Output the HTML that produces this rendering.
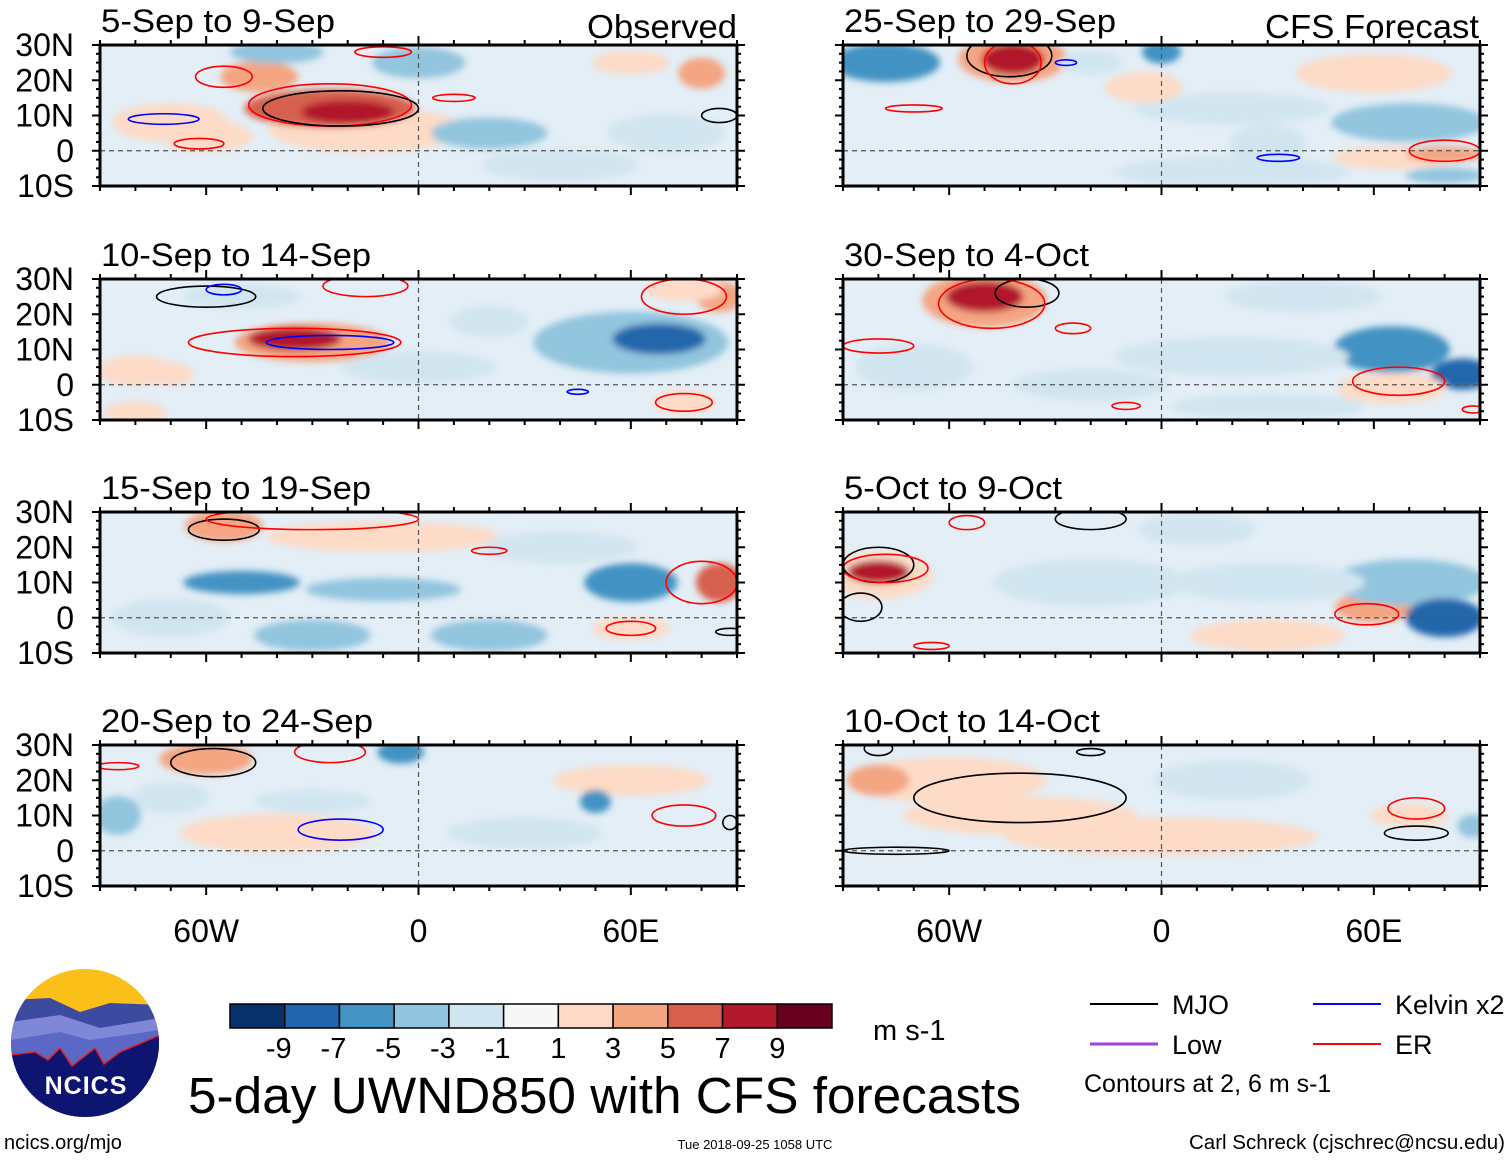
<!DOCTYPE html>
<html><head><meta charset="utf-8"><style>
body{margin:0;background:#fff;}
svg text{font-family:"Liberation Sans",sans-serif;fill:#000;}
</style></head><body>
<svg id="c" width="1510" height="1159" viewBox="0 0 1510 1159" xmlns="http://www.w3.org/2000/svg">
<defs><filter id="bl" x="-50%" y="-50%" width="200%" height="200%"><feGaussianBlur stdDeviation="3.5"/></filter>
<clipPath id="logoclip"><circle cx="85" cy="1043" r="74"/></clipPath></defs>
</svg>
<script>
const titles=["5-Sep to 9-Sep","10-Sep to 14-Sep","15-Sep to 19-Sep","20-Sep to 24-Sep","25-Sep to 29-Sep","30-Sep to 4-Oct","5-Oct to 9-Oct","10-Oct to 14-Oct"];
const titleWidths=[234,270,270,272,272,245,218,256];
const latTicks=[30,20,10,0,-10];
const latLabels=["30N","20N","10N","0","10S"];
const lonTicks=[-60,0,60];
const lonLabels=["60W","0","60E"];
const cbLevels=[-9,-7,-5,-3,-1,1,3,5,7,9];
const cbColors=["#08306b","#2166ac","#4393c3","#92c5de","#d1e5f0","#f7f7f7","#fddbc7","#f4a582","#d6604d","#b2182b","#67001f"];
// blobs: [lon, lat, rx(deg), ry(deg), value m/s]
const blobs0=[[-15,6,25,6,3],[-60,4,12,4,2],[-70,8,15,5,1.5],[-25,12,22,5,6],[-20,11,12,3,9],[-45,21,10,4,4],[-40,28,12,3,-4],[20,5,15,4,-3],[40,-4,20,4,-2],[80,22,6,4,4],[60,25,10,3,2],[0,25,12,4,-3],[70,5,15,5,-2]];
const blobs1=[[-30,12,20,5,4],[-35,13,12,3,8],[-80,4,10,4,3],[-70,3,6,3,3],[60,12,25,8,-3],[68,13,12,4,-7],[85,25,6,4,5],[75,27,10,3,3],[75,-5,8,3,3],[-50,25,15,3,-2],[20,18,10,4,-2],[0,5,20,4,-1.5],[-80,-8,8,3,2]];
const blobs2=[[-55,26,10,4,4],[-10,23,30,4,2],[-50,10,15,3,-5],[-10,8,20,3,-3],[60,10,12,5,-5],[85,10,6,5,6],[-30,-5,15,4,-4],[20,-5,15,4,-3],[-70,0,15,5,-2],[60,-3,10,3,2],[40,20,20,4,-1.5]];
const blobs3=[[-40,5,25,5,1.5],[60,20,20,4,1.5],[-60,26,12,4,5],[-5,28,6,3,-5],[-70,15,10,4,-2],[-30,14,15,3,-2],[50,14,4,3,-5],[30,5,20,4,-2],[-85,10,6,5,-3]];
const blobs4=[[-42,26,14,6,4],[-42,26,8,4,8],[-78,25,14,5,-5],[-20,25,8,3,-2],[0,28,5,3,-6],[70,8,20,5,-4],[65,-2,15,3,2],[80,-1,10,2,5],[80,-7,10,2,-3],[20,-6,30,4,-2],[20,12,25,4,-2],[-5,18,10,4,1.5],[60,22,20,5,2],[30,2,10,5,-2]];
const blobs5=[[-50,24,16,7,4],[-50,25,10,4,8],[65,10,15,6,-5],[85,3,8,4,-8],[65,-1,14,4,3],[20,8,30,5,-2],[-20,0,20,4,-1.5],[-70,5,15,6,-2],[30,-6,25,3,-2],[40,25,20,4,-2]];
const blobs6=[[-80,12,14,6,3],[-80,13,8,3,8],[60,3,10,4,4],[70,10,20,6,-4],[80,0,10,5,-8],[30,10,25,5,-2],[-20,10,25,6,-1.5],[30,-5,20,4,1.5],[10,25,15,4,-2]];
const blobs7=[[-60,20,25,6,3],[-40,10,30,5,2],[0,4,40,5,2],[70,10,10,3,2],[88,7,4,3,-4],[20,20,20,5,-1],[-80,20,8,4,4]];
// contours: [lon, lat, rx, ry, type]
const cont0=[[-25,13,23,6,"ER"],[-22,12,22,5,"MJO"],[-55,21,8,3,"ER"],[-72,9,10,1.5,"K"],[-62,2,7,1.5,"ER"],[-10,28,8,1.5,"ER"],[10,15,6,1,"ER"],[85,10,5,2,"MJO"]];
const cont1=[[-60,25,14,3,"MJO"],[-35,12,30,4,"ER"],[-25,12,18,2,"K"],[-55,27,5,1.5,"K"],[-15,28,12,3,"ER"],[75,25,12,5,"ER"],[75,-5,8,2.5,"ER"],[45,-2,3,0.7,"K"]];
const cont2=[[-55,25,10,3,"MJO"],[-30,28,30,3,"ER"],[80,10,10,6,"ER"],[20,19,5,1,"ER"],[60,-3,7,2,"ER"],[88,-4,4,1,"MJO"]];
const cont3=[[-58,25,12,4,"MJO"],[-85,24,6,1,"ER"],[-25,28,10,3,"ER"],[-22,6,12,3,"K"],[75,10,9,3,"ER"],[88,8,2,2,"MJO"]];
const cont4=[[-43,27,12,6,"MJO"],[-42,25,8,6,"ER"],[-27,25,3,0.8,"K"],[-70,12,8,1,"ER"],[80,0,10,3,"ER"],[33,-2,6,1,"K"]];
const cont5=[[-38,26,9,4,"MJO"],[-48,23,15,7,"ER"],[-25,16,5,1.5,"ER"],[-80,11,10,2,"ER"],[67,1,13,4,"ER"],[-10,-6,4,1,"ER"],[88,-7,3,1,"ER"]];
const cont6=[[-80,15,10,5,"MJO"],[-78,14,12,4,"ER"],[-55,27,5,2,"ER"],[-20,28,10,3,"MJO"],[58,1,9,3,"ER"],[-85,3,6,4,"MJO"],[-65,-8,5,1,"ER"]];
const cont7=[[-40,15,30,7,"MJO"],[72,5,9,2,"MJO"],[72,12,8,3,"ER"],[-75,0,15,1,"MJO"],[-80,29,4,2,"MJO"],[-20,28,4,1,"MJO"]];
const allBlobs=[blobs0,blobs1,blobs2,blobs3,blobs4,blobs5,blobs6,blobs7];
const allCont=[cont0,cont1,cont2,cont3,cont4,cont5,cont6,cont7];
const contColor={MJO:"#000",K:"#0000ff",ER:"#ff0000",Low:"#a040e0"};

const NS="http://www.w3.org/2000/svg";
const svg=document.getElementById('c');
function mk(tag,attrs,parent){const e=document.createElementNS(NS,tag);for(const k in attrs)e.setAttribute(k,attrs[k]);(parent||svg).appendChild(e);return e;}
function colorFor(v){let i=0;while(i<cbLevels.length&&v>cbLevels[i])i++;return cbColors[i];}
const W=637,H=141,rowY=[45,279,512,745],colX=[100,843];
for(let p=0;p<8;p++){
  const x0=colX[p<4?0:1],y0=rowY[p%4];
  const xs=lon=>x0+(lon+90)/180*W;
  const ys=lat=>y0+(30-lat)/40*H;
  const g=mk('g',{});
  
  
  const cid='cl'+p;
  const cp=mk('clipPath',{id:cid},svg.querySelector('defs'));
  mk('rect',{x:x0,y:y0,width:W,height:H},cp);
  const inner=mk('g',{'clip-path':'url(#'+cid+')'},g);
  mk('rect',{x:x0,y:y0,width:W,height:H,fill:'#e3eef6'},inner);
  const bg=mk('g',{filter:'url(#bl)'},inner);
  allBlobs[p].forEach(b=>{
    const e=mk('ellipse',{cx:xs(b[0]),cy:ys(b[1]),rx:b[2]/180*W*1.1,ry:b[3]/40*H*1.1,fill:colorFor(b[4])},bg);
    
    
  });
  mk('line',{x1:x0,x2:x0+W,y1:ys(0),y2:ys(0),stroke:'#555','stroke-dasharray':'5,4','stroke-width':1.2},inner);
  mk('line',{x1:xs(0),x2:xs(0),y1:y0,y2:y0+H,stroke:'#555','stroke-dasharray':'5,4','stroke-width':1.2},inner);
  allCont[p].forEach(c=>{
    const e=mk('ellipse',{cx:xs(c[0]),cy:ys(c[1]),rx:c[2]/180*W,ry:c[3]/40*H,fill:'none',stroke:contColor[c[4]],'stroke-width':1.6},inner);
    
    
  });
  mk('rect',{x:x0,y:y0,width:W,height:H,fill:'none',stroke:'#000','stroke-width':3},g);
  for(let lon=-90;lon<=90;lon+=10){const L=lon%60===0?9:5;mk('line',{x1:xs(lon),x2:xs(lon),y1:y0+H,y2:y0+H+L,stroke:'#000','stroke-width':2},g);mk('line',{x1:xs(lon),x2:xs(lon),y1:y0,y2:y0-L,stroke:'#000','stroke-width':2},g);}
  for(let lat=-10;lat<=30;lat+=2.5){const L=lat%10===0?8:4;mk('line',{x1:x0-L,x2:x0,y1:ys(lat),y2:ys(lat),stroke:'#000','stroke-width':2},g);mk('line',{x1:x0+W,x2:x0+W+L,y1:ys(lat),y2:ys(lat),stroke:'#000','stroke-width':2},g);}
  const t=mk('text',{x:x0+1,y:y0-13,'font-size':32,textLength:titleWidths[p],lengthAdjust:'spacingAndGlyphs'},g);t.textContent=titles[p];
  
  if(p<4){latTicks.forEach((lt,i)=>{const tl=mk('text',{x:74,y:ys(lt)+11,'font-size':32,'text-anchor':'end'},g);tl.textContent=latLabels[i];
    });}
  if(p%4===3){lonTicks.forEach((ln,i)=>{const tl=mk('text',{x:xs(ln),y:942,'font-size':32,'text-anchor':'middle'},g);tl.textContent=lonLabels[i];
    });}
}
function txt(s,a,name){const t=mk('text',a);t.textContent=s;return t;}
txt("Observed",{x:737,y:38,'font-size':33,'text-anchor':'end',textLength:150,lengthAdjust:'spacingAndGlyphs'},'observed-label');
txt("CFS Forecast",{x:1479,y:38,'font-size':33,'text-anchor':'end',textLength:214,lengthAdjust:'spacingAndGlyphs'},'forecast-label');
// colorbar
const cbX=230,cbW=602,cbY=1004,cbH=24,bw=cbW/cbColors.length;
cbColors.forEach((c,i)=>{const r=mk('rect',{x:cbX+i*bw,y:cbY,width:bw,height:cbH,fill:c,stroke:'#000','stroke-width':1.5});
  });
cbLevels.forEach((v,i)=>txt(String(v),{x:cbX+(i+1)*bw-(v<0?6:0),y:1058,'font-size':29,'text-anchor':'middle'},'colorbar-label'));
txt("m s-1",{x:873,y:1040,'font-size':29},'units-label');
txt("5-day UWND850 with CFS forecasts",{x:188,y:1113,'font-size':51,textLength:833,lengthAdjust:'spacingAndGlyphs'},'main-title');
txt("ncics.org/mjo",{x:4,y:1149,'font-size':20},'url-label');
txt("Tue 2018-09-25 1058 UTC",{x:755,y:1149,'font-size':13,'text-anchor':'middle'},'timestamp');
txt("Carl Schreck (cjschrec@ncsu.edu)",{x:1505,y:1149,'font-size':20,'text-anchor':'end',textLength:316,lengthAdjust:'spacingAndGlyphs'},'author-credit');
// legend
[["MJO","#000",1090,1004],["Kelvin x2","#0000ff",1313,1004],["Low","#a040e0",1090,1044],["ER","#ff0000",1313,1044]].forEach(l=>{
  const ln=mk('line',{x1:l[2],x2:l[2]+68,y1:l[3],y2:l[3],stroke:l[1],'stroke-width':l[0]==="Low"?3:2});
  
  txt(l[0],{x:l[2]+82,y:l[3]+10,'font-size':27},'legend-entry');
});
txt("Contours at 2, 6 m s-1",{x:1084,y:1092,'font-size':25},'contour-note');
// logo
const lg=mk('g',{'clip-path':'url(#logoclip)'});

mk('rect',{x:10,y:968,width:150,height:150,fill:'#fbbf1a'},lg);
mk('path',{d:'M10 1000 L50 998 L80 1012 L110 1003 L160 1005 L160 1120 L10 1120Z',fill:'#3c4aa0'},lg);
mk('path',{d:'M10 1022 L60 1015 L100 1028 L160 1018 L160 1120 L10 1120Z',fill:'#7f88d8'},lg);
mk('path',{d:'M10 1040 L60 1032 L90 1040 L160 1030 L160 1120 L10 1120Z',fill:'#5b68c6'},lg);
mk('path',{d:'M10 1055 L35 1052 L48 1060 L60 1048 L72 1066 L95 1048 L104 1064 L120 1052 L160 1035 L160 1120 L10 1120Z',fill:'#0d1570',stroke:'#e02020','stroke-width':1.5},lg);
txt("NCICS",{x:86,y:1094,'font-size':25,'font-weight':'bold','text-anchor':'middle',fill:'#fff',style:'fill:#fff;letter-spacing:1px'},'logo-text');
</script>
</body></html>
